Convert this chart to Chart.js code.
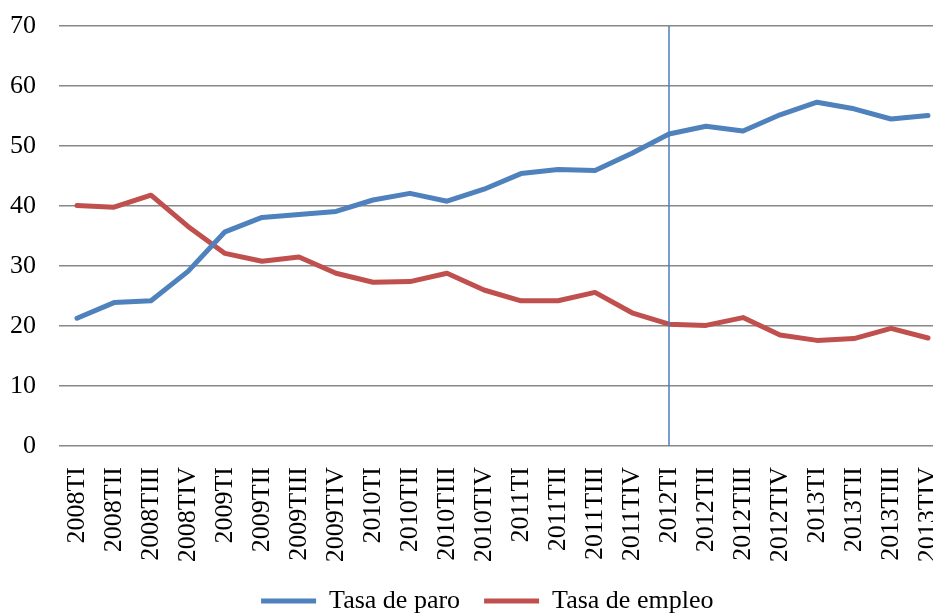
<!DOCTYPE html>
<html>
<head>
<meta charset="utf-8">
<script src="https://cdn.jsdelivr.net/npm/chart.js@4/dist/chart.umd.min.js"></script>
<style>
  html, body { margin: 0; padding: 0; background: #fff; overflow: hidden; }
  #wrap { position: relative; width: 975px; height: 613px; }
</style>
</head>
<body>
<div id="wrap"><canvas id="c"></canvas></div>
<script>
const categories = ["2008TI","2008TII","2008TIII","2008TIV","2009TI","2009TII","2009TIII","2009TIV",
  "2010TI","2010TII","2010TIII","2010TIV","2011TI","2011TII","2011TIII","2011TIV",
  "2012TI","2012TII","2012TIII","2012TIV","2013TI","2013TII","2013TIII","2013TIV"];
const tasaParo = [21.3,23.9,24.2,29.1,35.7,38.1,38.6,39.1,41.0,42.1,40.8,42.8,
  45.4,46.1,45.9,48.8,52.0,53.3,52.5,55.2,57.3,56.2,54.5,55.1];
const tasaEmpleo = [40.1,39.8,41.8,36.6,32.1,30.8,31.5,28.8,27.3,27.4,28.8,26.0,
  24.2,24.2,25.6,22.2,20.3,20.1,21.4,18.5,17.6,17.9,19.6,18.0];
const markerCategory = "2012TI";
const yTicks = { min: 0, max: 70, step: 10 };

const FONT = "'Liberation Serif', 'Times New Roman', serif";

const markerLine = {
  id: 'markerLine',
  afterDatasetsDraw(chart) {
    const x = chart.scales.x.getPixelForValue(categories.indexOf(markerCategory));
    const y = chart.scales.y;
    const ctx = chart.ctx;
    ctx.save();
    ctx.strokeStyle = '#4A7EBB';
    ctx.lineWidth = 1.5;
    ctx.beginPath();
    ctx.moveTo(x, y.getPixelForValue(yTicks.max));
    ctx.lineTo(x, y.getPixelForValue(yTicks.min));
    ctx.stroke();
    ctx.restore();
  }
};

const legendShift = {
  id: 'legendShift',
  afterLayout(chart) {
    const l = chart.legend;
    if (l) { l.left += 9; l.right += 9; }
  }
};

new Chart(document.getElementById('c'), {
  type: 'line',
  data: {
    labels: categories,
    datasets: [
      { label: 'Tasa de paro', data: tasaParo, borderColor: '#4F81BD', backgroundColor: '#4F81BD',
        borderWidth: 5, pointRadius: 0, tension: 0, borderCapStyle: 'round', borderJoinStyle: 'round' },
      { label: 'Tasa de empleo', data: tasaEmpleo, borderColor: '#C0504D', backgroundColor: '#C0504D',
        borderWidth: 5, pointRadius: 0, tension: 0, borderCapStyle: 'round', borderJoinStyle: 'round' }
    ]
  },
  options: {
    responsive: true,
    maintainAspectRatio: false,
    animation: false,
    layout: { padding: { left: 10, right: 28.5, top: 26, bottom: -11 } },
    scales: {
      x: {
        offset: true,
        grid: { display: false },
        border: { display: false },
        ticks: { color: '#000', font: { family: FONT, size: 26 }, minRotation: 90, maxRotation: 90,
          autoSkip: false, padding: 13 },
        afterFit(s) { s.height = 118; }
      },
      y: {
        min: yTicks.min, max: yTicks.max,
        grid: { color: '#888', lineWidth: 1.5, drawTicks: false },
        border: { display: false },
        ticks: { stepSize: yTicks.step, color: '#000', font: { family: FONT, size: 26 }, padding: 22.5 },
        afterFit(s) { s.width = 48.5; s.paddingTop = 0; s.paddingBottom = 0; }
      }
    },
    plugins: {
      legend: {
        position: 'bottom',
        labels: { color: '#000', font: { family: FONT, size: 26 }, usePointStyle: true,
          pointStyle: 'line', pointStyleWidth: 55, padding: 24 }
      },
      tooltip: { enabled: false }
    }
  },
  plugins: [markerLine, legendShift]
});
</script>
</body>
</html>
